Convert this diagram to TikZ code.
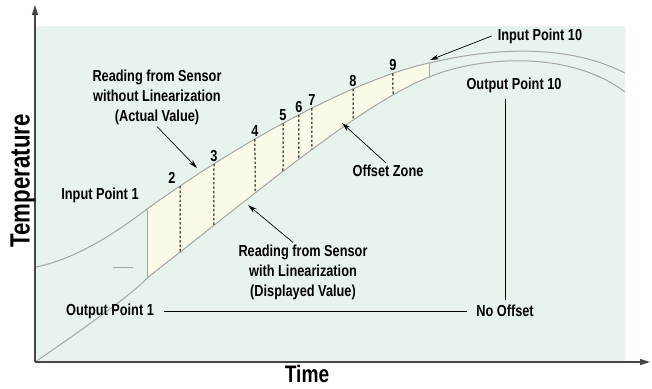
\documentclass[tikz,border=0pt]{standalone}
\usepackage{fontspec}
\setmainfont{Liberation Sans}[FakeStretch=0.8]
\usetikzlibrary{arrows.meta,intersections}
\definecolor{bggreen}{RGB}{232,243,235}
\definecolor{zonecream}{RGB}{251,250,232}
\definecolor{curvegray}{RGB}{165,165,165}
\definecolor{axisgray}{RGB}{70,70,70}

\begin{document}
\begin{tikzpicture}[x=1bp, y=-1bp,
  lbl/.style={font=\fontsize{16}{20}\selectfont\bfseries, align=center, inner sep=2bp},
  curve/.style={curvegray, line width=1bp},
  ptr/.style={-{Stealth[length=9bp,width=5bp]}, line width=0.7bp},
  guide/.style={line width=0.8bp},
  axisline/.style={axisgray, line width=1.2bp, -{Triangle[length=10bp,width=6bp]}},
  divider/.style={line width=1bp, dash pattern=on 2.5bp off 2bp}]
  \useasboundingbox (0,0) rectangle (652,388);

  % Background
  \fill[bggreen] (36,26) rectangle (625,362);

  % Offset zone between the two readings
  \coordinate (zoneTL) at (147,209);
  \coordinate (zoneBL) at (147,278);
  \coordinate (zoneTR) at (429,63);
  \coordinate (zoneBR) at (429,77);
  \fill[zonecream] (zoneTL) .. controls (250,135) and (360,78) .. (zoneTR)
                   -- (zoneBR) .. controls (360,105) and (260,190) .. (zoneBL) -- cycle;

  % Reading without linearization
  \draw[curve, name path=upper] (36,267) .. controls (80,258) and (122,228) .. (zoneTL)
               .. controls (250,135) and (360,78) .. (zoneTR)
               .. controls (480,51) and (560,40) .. (625,73);
  % Reading with linearization
  \draw[curve, name path=lower] (35,362) .. controls (75,335) and (138,290) .. (zoneBL)
               .. controls (260,190) and (360,105) .. (zoneBR)
               .. controls (480,56) and (570,50) .. (625,92);
  \draw[curve] (zoneTL) -- (zoneBL);
  \draw[curve] (zoneTR) -- (zoneBR);
  \draw[curve] (113,267) -- (133,267);

  % Linearization points
  \foreach \px/\num/\dx in {180/2/-8, 214/3/0, 255/4/0, 283/5/0, 299/6/0, 312/7/0, 353/8/0, 393/9/0} {
    \path[name path=probe] (\px,0) -- (\px,388);
    \path[name intersections={of=upper and probe, by=top\num}];
    \path[name intersections={of=lower and probe, by=bot\num}];
    \draw[divider] (top\num) -- (bot\num);
    \node[lbl, above, xshift=\dx bp] (num\num) at (top\num) {\num};
  }

  % Axes
  \coordinate (origin) at (35,362);
  \coordinate (yTip) at (35,5);
  \coordinate (xTip) at (650,362);
  \draw[axisline] (origin) -- (yTip);
  \draw[axisline] (origin) -- (xTip);
  \node[font=\fontsize{28}{28}\selectfont\bfseries, rotate=90] (tempLabel) at (23,181) {Temperature};
  \node[font=\fontsize{24}{24}\selectfont\bfseries] (timeLabel) at (307,374) {Time};

  % Labels
  \node[lbl] (lblActual) at (157,97) {Reading from Sensor\\without Linearization\\(Actual Value)};
  \node[lbl] (lblDisp) at (303,272) {Reading from Sensor\\with Linearization\\(Displayed Value)};
  \node[lbl] (lblZone) at (388,171) {Offset Zone};
  \node[lbl] (lblIn1) at (100,195) {Input Point 1};
  \node[lbl] (lblOut1) at (110,311) {Output Point 1};
  \node[lbl] (lblIn10) at (540,36) {Input Point 10};
  \node[lbl] (lblOut10) at (514,85) {Output Point 10};
  \node[lbl] (lblNoOff) at (505,311) {No Offset};

  \coordinate (tipActual) at (197,168);
  \coordinate (tipDisp) at (248,205);
  \coordinate (tipZone) at (342,123);
  \coordinate (tipIn10) at (430,60);
  \draw[ptr] (lblActual.south) -- (tipActual);
  \draw[ptr] ([xshift=-10bp]lblDisp.north) -- (tipDisp);
  \draw[ptr] ([xshift=-2bp]lblZone.north) -- (tipZone);
  \draw[ptr] ([xshift=-4bp]lblIn10.west) -- (tipIn10);
  \draw[guide, shorten <=8bp, shorten >=7bp] (lblOut1.east) -- (lblNoOff.west);
  \draw[guide, shorten <=4bp, shorten >=3bp] (lblNoOff.north |- lblOut10.south) -- (lblNoOff.north);
\end{tikzpicture}
\end{document}
